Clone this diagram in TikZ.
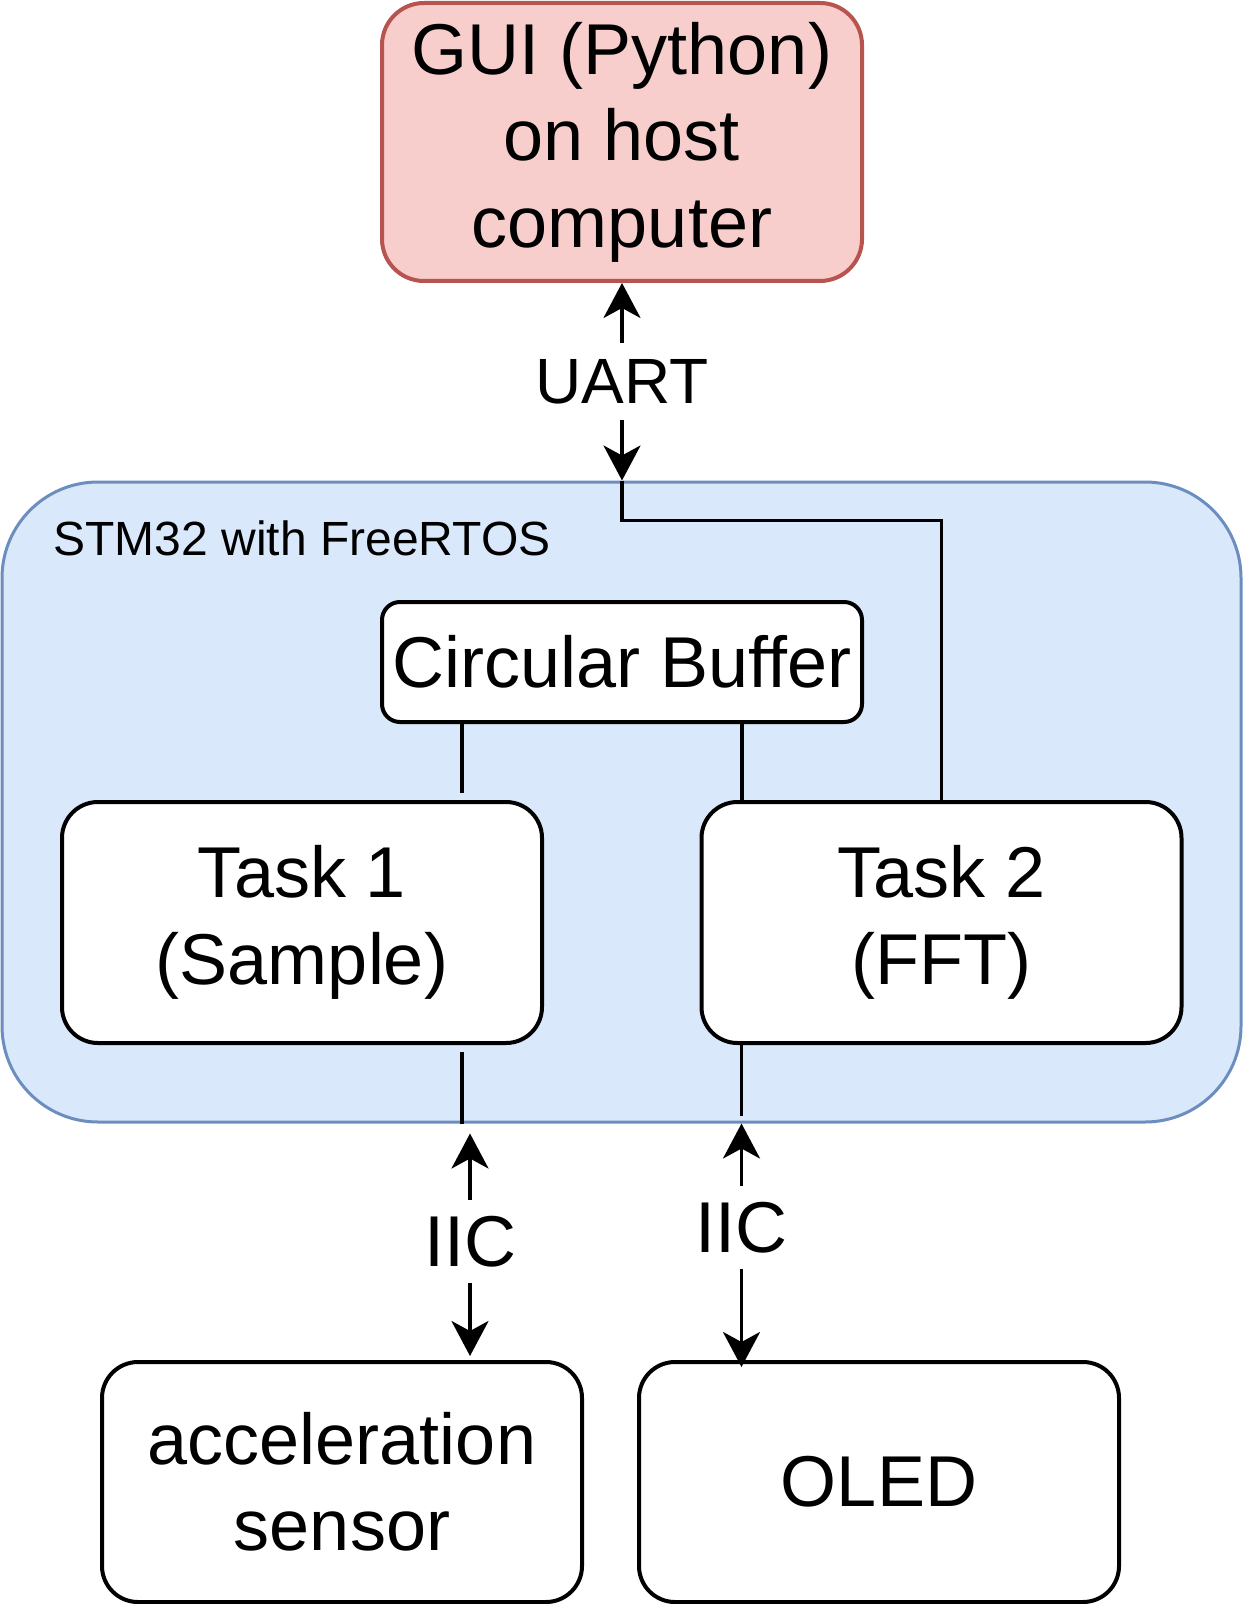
\documentclass[tikz,border=0pt]{standalone}
\usepackage{fontspec}
\setmainfont{Liberation Sans}
\usetikzlibrary{arrows.meta}
\definecolor{guifill}{HTML}{F8CECC}
\definecolor{guiline}{HTML}{B85450}
\definecolor{mcufill}{HTML}{DAE8FC}
\definecolor{mculine}{HTML}{6C8EBF}

\begin{document}
\begin{tikzpicture}[x=0.5pt,y=-0.5pt]
  \tikzset{block/.style = {shape=rectangle,draw,line width=2pt,fill=white,rounded corners=18pt,minimum width=240pt,minimum height=120pt,align=center,inner sep=0pt,font=\fontsize{36}{43.2}\selectfont}}
  \tikzset{link/.style = {line width=1.75pt,{Stealth[length=17.5pt,width=18.5pt,inset=5pt]}-{Stealth[length=17.5pt,width=18.5pt,inset=5pt]}}}
  \tikzset{wire/.style = {line width=1.75pt}}
  \tikzset{bus/.style = {fill=white,inner xsep=2pt,inner ysep=8pt,font=\fontsize{36}{43.2}\selectfont}}
  \useasboundingbox (0,0) rectangle (1244,1604);
	\node[block,fill=guifill,draw=guiline,minimum height=139pt,rounded corners=21pt] (gui) at (622,142) {GUI (Python)\\on host\\computer};
	\node[block,fill=mcufill,draw=mculine,line width=1.5pt,minimum width=619.5pt,minimum height=320pt,rounded corners=48pt] (stm) at (621.5,802) {};
	\node[anchor=west,inner sep=0pt,font=\fontsize{24}{28.8}\selectfont] (stmlabel) at (53,538) {STM32 with FreeRTOS};
	\node[block,minimum height=60pt,rounded corners=9pt] (buf) at (622,662) {Circular Buffer};
	\node[block,minimum height=120.5pt] (taskA) at (302,922.5) {Task 1\\(Sample)};
	\node[block,minimum height=120.5pt] (taskB) at (941.5,922.5) {Task 2\\(FFT)};
	\node[block] (sensor) at (342,1482) {acceleration\\sensor};
	\node[block] (oled) at (879,1482) {OLED};

	\coordinate (uart) at (gui.south |- stm.north);
	\draw[link] (gui) -- node[bus,font=\fontsize{32}{38.4}\selectfont]{UART} (uart);
	\draw[wire] (uart) -- ++(0,40) -| (taskB.north);

	\draw[wire,shorten >=3.5pt] ([xshift=-80pt]buf.south) -- ([xshift=-80pt]buf.south |- taskA.north);
	\draw[wire] ([xshift=60pt]buf.south) -- ([xshift=60pt]buf.south |- taskB.north);

	\draw[wire,shorten <=3.5pt] ([xshift=80pt]taskA.south) -- ([xshift=80pt]taskA.south |- stm.south);
	\draw[wire,shorten >=4pt] ([xshift=-100pt]taskB.south) -- ([xshift=-100pt]taskB.south |- stm.south);

	\draw[link,shorten <=5pt,shorten >=2pt] ([xshift=64pt]sensor.north |- stm.south) -- node[bus]{IIC} ([xshift=64pt]sensor.north);
	\draw[link,shorten >=-3.5pt] ([xshift=-100pt]taskB.south |- stm.south) -- node[bus,pos=0.44]{IIC} ([xshift=-100pt]taskB.south |- oled.north);
\end{tikzpicture}
\end{document}
